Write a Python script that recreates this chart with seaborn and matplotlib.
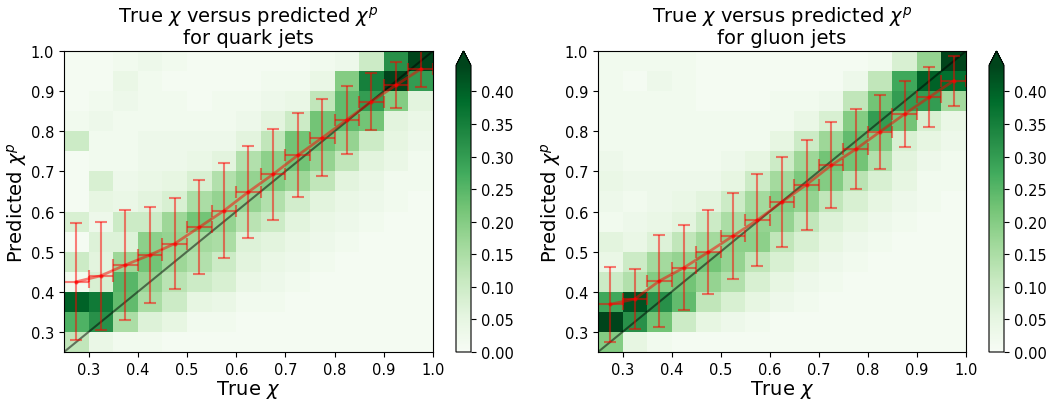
import numpy as np
import matplotlib
matplotlib.use("Agg")
import matplotlib.pyplot as plt
import seaborn as sns

# bin edges / centres of true chi and predicted chi
edges = np.round(np.arange(0.25, 1.0001, 0.05), 2)
centres = np.round(edges[:-1] + 0.025, 3)

# normalised 2D histograms, one inner list per true-chi bin (predicted chi bottom -> top)
quark_hist = [
    [0.12, 0.26, 0.40, 0.02, 0.10, 0.01, 0.08, 0.01, 0.01, 0.01, 0.10, 0.02, 0.01, 0.01, 0.01],
    [0.04, 0.32, 0.36, 0.08, 0.06, 0.07, 0.03, 0.05, 0.08, 0.02, 0.02, 0.03, 0.02, 0.01, 0.01],
    [0.02, 0.15, 0.24, 0.25, 0.17, 0.07, 0.10, 0.04, 0.03, 0.02, 0.02, 0.02, 0.03, 0.04, 0.02],
    [0.02, 0.07, 0.15, 0.18, 0.22, 0.19, 0.10, 0.06, 0.04, 0.03, 0.03, 0.02, 0.02, 0.02, 0.03],
    [0.01, 0.05, 0.10, 0.13, 0.17, 0.18, 0.17, 0.08, 0.05, 0.03, 0.03, 0.02, 0.02, 0.01, 0.02],
    [0.01, 0.02, 0.05, 0.10, 0.14, 0.16, 0.22, 0.15, 0.08, 0.04, 0.03, 0.02, 0.01, 0.01, 0.01],
    [0.01, 0.02, 0.04, 0.08, 0.10, 0.15, 0.18, 0.18, 0.14, 0.06, 0.03, 0.02, 0.02, 0.01, 0.01],
    [0.01, 0.01, 0.02, 0.04, 0.06, 0.07, 0.13, 0.18, 0.18, 0.14, 0.06, 0.03, 0.02, 0.01, 0.01],
    [0.01, 0.01, 0.02, 0.03, 0.04, 0.06, 0.10, 0.14, 0.20, 0.19, 0.12, 0.06, 0.03, 0.02, 0.01],
    [0.01, 0.01, 0.01, 0.02, 0.03, 0.04, 0.06, 0.09, 0.17, 0.22, 0.22, 0.10, 0.04, 0.02, 0.01],
    [0.01, 0.01, 0.01, 0.01, 0.02, 0.03, 0.04, 0.06, 0.12, 0.18, 0.22, 0.22, 0.12, 0.04, 0.02],
    [0.01, 0.01, 0.01, 0.01, 0.01, 0.02, 0.03, 0.04, 0.06, 0.12, 0.18, 0.24, 0.24, 0.20, 0.03],
    [0.01, 0.01, 0.01, 0.01, 0.01, 0.01, 0.02, 0.03, 0.04, 0.06, 0.10, 0.22, 0.30, 0.35, 0.10],
    [0.01, 0.01, 0.01, 0.01, 0.01, 0.01, 0.01, 0.02, 0.02, 0.04, 0.05, 0.06, 0.20, 0.44, 0.32],
    [0.01, 0.01, 0.01, 0.01, 0.01, 0.01, 0.01, 0.01, 0.02, 0.02, 0.03, 0.04, 0.06, 0.30, 0.50],
]
gluon_hist = [
    [0.20, 0.48, 0.28, 0.10, 0.04, 0.06, 0.02, 0.03, 0.04, 0.03, 0.02, 0.02, 0.02, 0.02, 0.02],
    [0.05, 0.32, 0.42, 0.14, 0.10, 0.04, 0.03, 0.02, 0.03, 0.02, 0.02, 0.02, 0.02, 0.01, 0.02],
    [0.02, 0.22, 0.32, 0.20, 0.16, 0.07, 0.04, 0.03, 0.03, 0.02, 0.02, 0.02, 0.02, 0.03, 0.02],
    [0.01, 0.10, 0.24, 0.22, 0.18, 0.12, 0.06, 0.04, 0.03, 0.02, 0.02, 0.02, 0.02, 0.02, 0.02],
    [0.01, 0.05, 0.12, 0.18, 0.22, 0.16, 0.10, 0.06, 0.03, 0.02, 0.02, 0.02, 0.01, 0.01, 0.01],
    [0.01, 0.03, 0.08, 0.14, 0.18, 0.19, 0.15, 0.10, 0.05, 0.03, 0.02, 0.02, 0.01, 0.01, 0.01],
    [0.01, 0.02, 0.05, 0.08, 0.12, 0.19, 0.18, 0.16, 0.10, 0.05, 0.02, 0.02, 0.01, 0.01, 0.01],
    [0.01, 0.01, 0.03, 0.05, 0.08, 0.12, 0.18, 0.20, 0.16, 0.10, 0.05, 0.02, 0.02, 0.01, 0.01],
    [0.01, 0.01, 0.02, 0.03, 0.05, 0.08, 0.12, 0.18, 0.21, 0.17, 0.10, 0.04, 0.02, 0.01, 0.01],
    [0.01, 0.01, 0.01, 0.02, 0.03, 0.05, 0.07, 0.12, 0.20, 0.22, 0.17, 0.08, 0.03, 0.01, 0.01],
    [0.01, 0.01, 0.01, 0.01, 0.02, 0.03, 0.05, 0.08, 0.13, 0.22, 0.24, 0.20, 0.12, 0.03, 0.01],
    [0.01, 0.01, 0.01, 0.01, 0.01, 0.02, 0.03, 0.05, 0.08, 0.14, 0.20, 0.30, 0.22, 0.12, 0.02],
    [0.01, 0.01, 0.01, 0.01, 0.01, 0.01, 0.02, 0.03, 0.05, 0.06, 0.08, 0.22, 0.30, 0.28, 0.08],
    [0.01, 0.01, 0.01, 0.01, 0.01, 0.01, 0.01, 0.02, 0.02, 0.03, 0.05, 0.08, 0.30, 0.40, 0.18],
    [0.01, 0.01, 0.01, 0.01, 0.01, 0.01, 0.01, 0.01, 0.02, 0.02, 0.03, 0.04, 0.16, 0.38, 0.48],
]

# mean and std of predicted chi in each true-chi bin
quark_mean = [0.425, 0.440, 0.467, 0.492, 0.520, 0.561, 0.602, 0.649, 0.693, 0.740, 0.784, 0.829, 0.874, 0.915, 0.955]
quark_std = [0.146, 0.134, 0.137, 0.120, 0.114, 0.117, 0.119, 0.115, 0.113, 0.105, 0.096, 0.085, 0.071, 0.058, 0.044]
gluon_mean = [0.369, 0.382, 0.427, 0.460, 0.499, 0.539, 0.579, 0.624, 0.667, 0.715, 0.755, 0.799, 0.843, 0.885, 0.926]
gluon_std = [0.094, 0.075, 0.115, 0.106, 0.105, 0.108, 0.114, 0.112, 0.112, 0.107, 0.100, 0.092, 0.083, 0.074, 0.062]


def chi_panel(ax, cax, hist, means, stds, name):
    hist = np.array(hist)
    xs = np.repeat(centres, len(centres))
    ys = np.tile(centres, len(centres))
    sns.histplot(x=xs, y=ys, weights=hist.ravel(), bins=[edges, edges], thresh=None,
                 cmap="Greens", vmin=0, vmax=0.44, ax=ax,
                 cbar=True, cbar_ax=cax, cbar_kws=dict(extend="max"))
    ax.plot([0.25, 1.0], [0.25, 1.0], color="black", alpha=0.5, lw=1.5)
    ax.plot(centres, means, color="red", alpha=0.5, lw=2)
    ax.errorbar(centres, means, xerr=0.025, yerr=stds, fmt=".", color="red",
                alpha=0.5, capsize=4, ms=4, elinewidth=1.5, capthick=1.5)
    ax.set_xlim(0.25, 1.0)
    ax.set_ylim(0.25, 1.0)
    ax.set_xticks(np.arange(0.3, 1.01, 0.1))
    ax.set_yticks(np.arange(0.3, 1.01, 0.1))
    ax.tick_params(labelsize=10.5)
    cax.tick_params(labelsize=10.5)
    ax.set_xlabel(r"True $\chi$", fontsize=14, labelpad=1)
    ax.set_ylabel(r"Predicted $\chi^p$", fontsize=14, labelpad=1)
    ax.set_title("True $\\chi$ versus predicted $\\chi^p$\nfor " + name + " jets",
                 fontsize=14, linespacing=1.0)


fig = plt.figure(figsize=(10.52, 4.02), dpi=100)
ax1 = fig.add_axes([64 / 1052, 49 / 402, 369 / 1052, 301 / 402])
cax1 = fig.add_axes([456 / 1052, 49 / 402, 15 / 1052, 301 / 402])
ax2 = fig.add_axes([598 / 1052, 49 / 402, 368 / 1052, 301 / 402])
cax2 = fig.add_axes([989 / 1052, 49 / 402, 15 / 1052, 301 / 402])

chi_panel(ax1, cax1, quark_hist, quark_mean, quark_std, "quark")
chi_panel(ax2, cax2, gluon_hist, gluon_mean, gluon_std, "gluon")

fig.savefig("out.png", dpi=100)
